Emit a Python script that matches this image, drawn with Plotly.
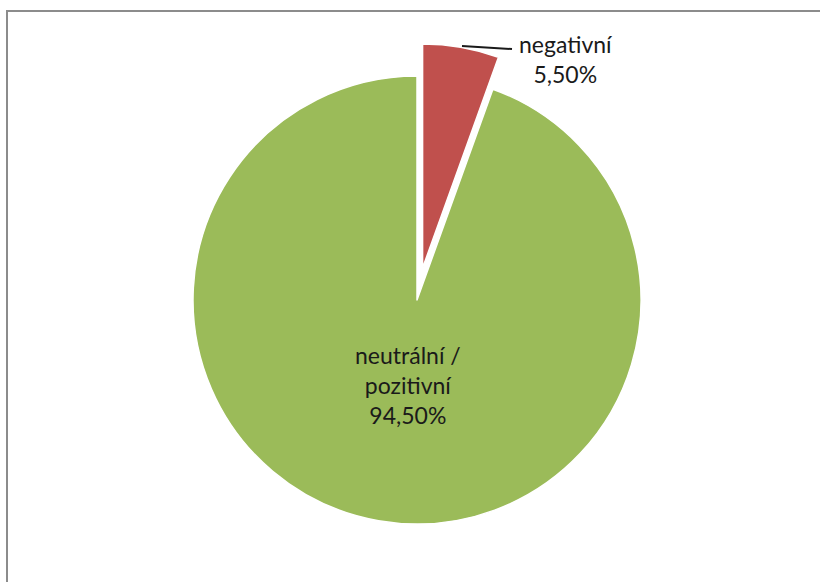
import plotly.graph_objects as go

# Share of articles by sentiment
categories = ["negativní", "neutrální / pozitivní"]
shares = [5.5, 94.5]
colors = ["#C0504D", "#9BBB59"]
pulls = [0.145, 0.0]

W, H = 820, 582


def px(x, y):
    """Pixel position -> paper coordinates."""
    return x / W, 1 - y / H


def fmt(v):
    return f"{v:.2f}".replace(".", ",") + "%"


R = 224 * (1 + max(pulls))
fig = go.Figure(
    go.Pie(
        labels=categories,
        values=shares,
        marker=dict(colors=colors, line=dict(color="white", width=1.5)),
        pull=pulls,
        sort=False,
        direction="clockwise",
        rotation=0,
        textinfo="none",
        hoverinfo="label+percent",
        showlegend=False,
        domain=dict(x=[(417 - R) / W, (417 + R) / W],
                    y=[1 - (300 + R) / H, 1 - (300 - R) / H]),
    )
)

font = dict(family="Lato, Open Sans, sans-serif", size=23, color="#1a1a1a")

# label for the small, pulled-out slice with a leader line
lx, ly = px(566, 59)
fig.add_annotation(x=lx, y=ly, xref="paper", yref="paper",
                   text=f"{categories[0]}<br>{fmt(shares[0])}",
                   showarrow=False, font=font, align="center",
                   xanchor="center", yanchor="middle")
x0, y0 = px(462, 46)
x1, y1 = px(512, 49)
fig.add_shape(type="line", xref="paper", yref="paper",
              x0=x0, y0=y0, x1=x1, y1=y1,
              line=dict(color="#1a1a1a", width=2))

# label inside the large slice
gx, gy = px(408, 385)
fig.add_annotation(x=gx, y=gy, xref="paper", yref="paper",
                   text="neutrální /<br>pozitivní<br>" + fmt(shares[1]),
                   showarrow=False, font=font, align="center",
                   xanchor="center", yanchor="middle")

# chart area frame
bx0, by0 = px(7, 11)
fig.add_shape(type="rect", xref="paper", yref="paper",
              x0=bx0, y0=-0.05, x1=1.05, y1=by0,
              line=dict(color="#8c8c8c", width=2), fillcolor="rgba(0,0,0,0)")

fig.update_layout(
    width=W, height=H,
    margin=dict(l=0, r=0, t=0, b=0),
    paper_bgcolor="white",
    plot_bgcolor="white",
)

fig.write_html("out.html")
